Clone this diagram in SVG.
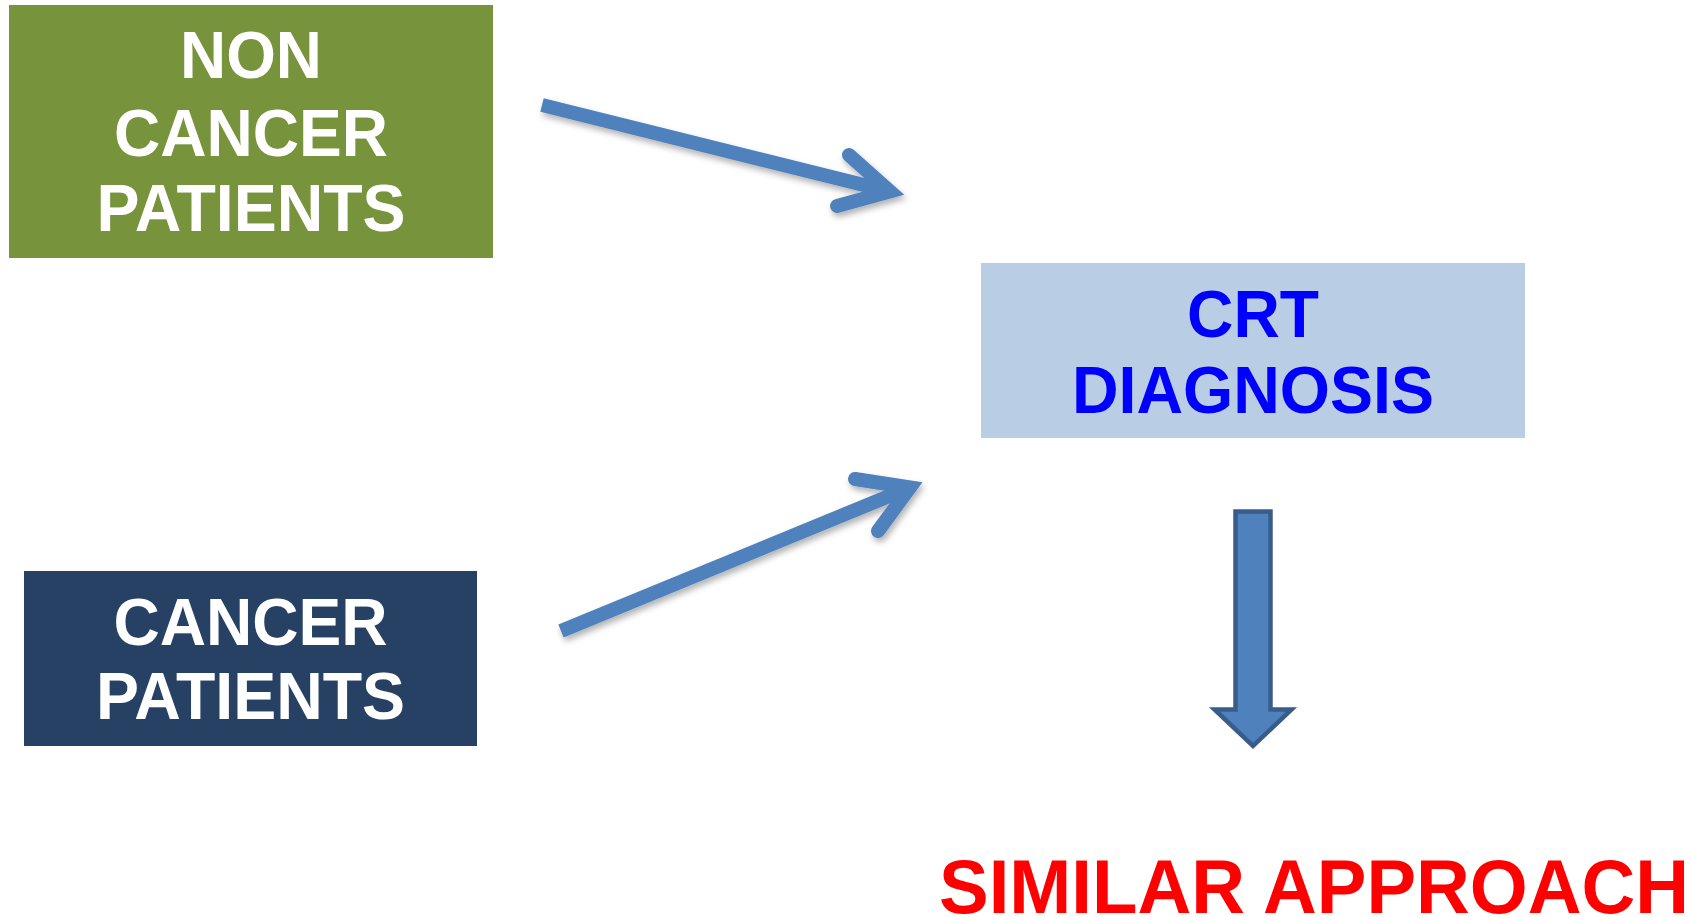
<svg xmlns="http://www.w3.org/2000/svg" width="1690" height="917" viewBox="0 0 1690 917">
<defs>
<style>
.lbl{font-family:"Liberation Sans",Arial,Helvetica,sans-serif;font-weight:bold;font-size:66px;text-anchor:middle}
.white{fill:#ffffff}
.blue{fill:#0000ff}
.conn{fill:none;stroke:#4F81BD;stroke-width:14}
</style>
<filter id="shadow" x="-10%" y="-40%" width="130%" height="200%">
<feDropShadow dx="2" dy="4" stdDeviation="3" flood-color="#000000" flood-opacity="0.3"/>
</filter>
</defs>
<rect x="0" y="0" width="1690" height="917" fill="#ffffff"/>
<g id="non-cancer-patients">
<rect x="9" y="5" width="484" height="253" fill="#77933C"/>
<text class="lbl white" x="251" y="78" textLength="142" lengthAdjust="spacingAndGlyphs">NON</text>
<text class="lbl white" x="251" y="156" textLength="274" lengthAdjust="spacingAndGlyphs">CANCER</text>
<text class="lbl white" x="251" y="231" textLength="309" lengthAdjust="spacingAndGlyphs">PATIENTS</text>
</g>
<g id="cancer-patients">
<rect x="24" y="571" width="453" height="175" fill="#264163"/>
<text class="lbl white" x="250.5" y="645" textLength="274" lengthAdjust="spacingAndGlyphs">CANCER</text>
<text class="lbl white" x="250.5" y="719" textLength="309" lengthAdjust="spacingAndGlyphs">PATIENTS</text>
</g>
<g id="crt-diagnosis">
<rect x="981" y="263" width="544" height="175" fill="#B9CDE5"/>
<text class="lbl blue" x="1253" y="337" textLength="132" lengthAdjust="spacingAndGlyphs">CRT</text>
<text class="lbl blue" x="1253" y="413" textLength="362" lengthAdjust="spacingAndGlyphs">DIAGNOSIS</text>
</g>
<g id="similar-approach">
<text x="939" y="913" font-family="Liberation Sans, Arial, sans-serif" font-weight="bold" font-size="76" fill="#FF0000" textLength="750" lengthAdjust="spacingAndGlyphs">SIMILAR APPROACH</text>
</g>
<g id="connectors">
<g class="conn" filter="url(#shadow)">
<path d="M542,105 L890,191.5" stroke-linecap="butt"/>
<path d="M849,155 L890,191.5 L837,206" stroke-linecap="round" stroke-linejoin="miter"/>
</g>
<g class="conn" filter="url(#shadow)">
<path d="M561,631 L910,487.5" stroke-linecap="butt"/>
<path d="M855,479 L910,487.5 L878,531" stroke-linecap="round" stroke-linejoin="miter"/>
</g>
<path d="M1235.5,511.5 H1270.5 V709.5 H1291.5 L1253,746 L1214.5,709.5 H1235.5 Z" fill="#4F81BD" stroke="#385D8A" stroke-width="4.5" stroke-linejoin="miter"/>
</g>
</svg>
